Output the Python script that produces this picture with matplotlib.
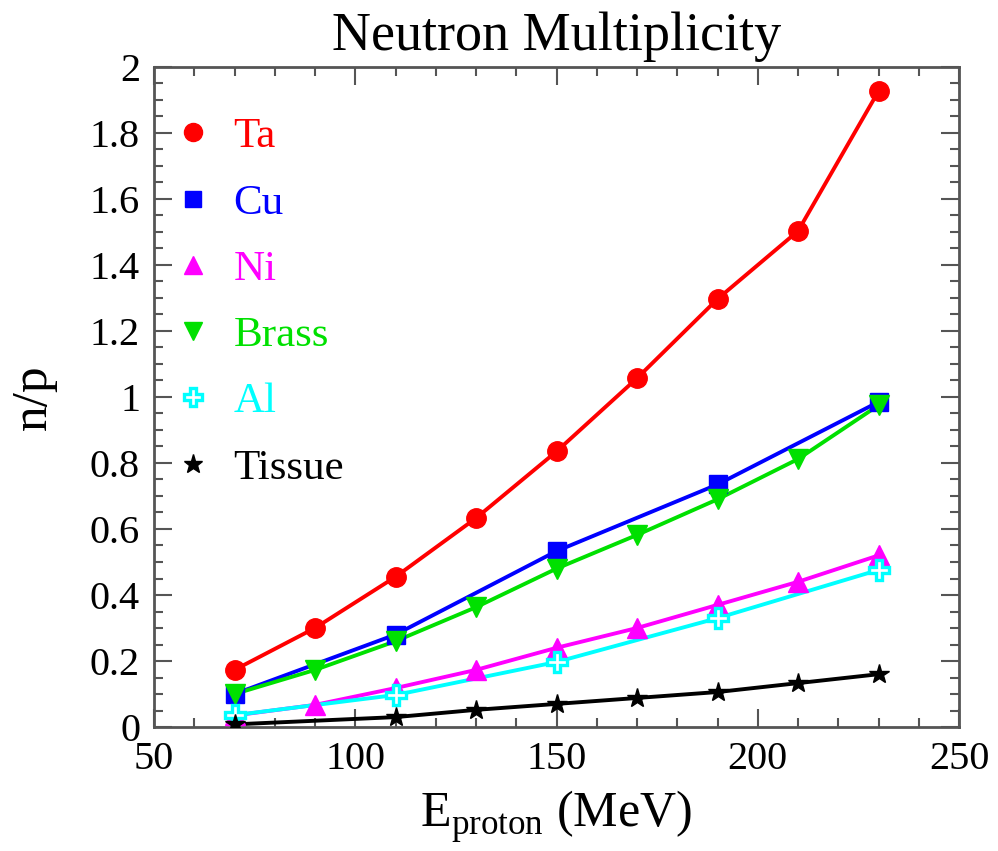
import matplotlib
matplotlib.use("Agg")
import matplotlib.pyplot as plt
from matplotlib.ticker import MultipleLocator

plt.rcParams['font.family'] = ['Liberation Serif', 'DejaVu Serif']
plt.rcParams['mathtext.fontset'] = 'custom'
plt.rcParams['mathtext.rm'] = 'Liberation Serif'

# proton energies (MeV)
e_full = [70, 90, 110, 130, 150, 170, 190, 210, 230]
e_cu = [70, 110, 150, 190, 230]
e_al = [70, 110, 150, 190, 230]
e_tissue = [70, 110, 130, 150, 170, 190, 210, 230]

# neutrons per proton
ta = [0.173, 0.30, 0.455, 0.633, 0.835, 1.057, 1.297, 1.503, 1.927]
cu = [0.10, 0.28, 0.533, 0.735, 0.985]
ni = [0.035, 0.067, 0.118, 0.173, 0.24, 0.30, 0.37, 0.44, 0.52]
brass = [0.10, 0.173, 0.26, 0.363, 0.48, 0.582, 0.69, 0.812, 0.975]
al = [0.036, 0.097, 0.197, 0.33, 0.476]
tissue = [0.008, 0.03, 0.052, 0.07, 0.088, 0.106, 0.133, 0.16]

series = [
    ("Ta", e_full, ta, "#ff0000", "o", "#ff0000", 14),
    ("Cu", e_cu, cu, "#0000ff", "s", "#0000ff", 13),
    ("Ni", e_full, ni, "#ff00ff", "^", "#ff00ff", 14),
    ("Brass", e_full, brass, "#00e000", "v", "#00e000", 14),
    ("Al", e_al, al, "#00ffff", "P", "white", 14),
    ("Tissue", e_tissue, tissue, "#000000", "*", "#000000", 15),
]

fig = plt.figure(figsize=(9.98, 8.51), dpi=100)
ax = fig.add_axes([0.1543, 0.1457, 0.8067, 0.7756])

handles = []
for name, x, y, col, mk, fc, ms in series:
    ax.plot(x, y, color=col, lw=2.8, zorder=2)
    ax.plot(x, y, ls='none', marker=mk, ms=ms, mfc=fc, mec=col,
            mew=2.4 if mk == "P" else 1, zorder=3)
    h, = ax.plot([], [], ls='none', marker=mk, ms=ms - 1, mfc=fc, mec=col,
                 mew=2.4 if mk == "P" else 1, label=name)
    handles.append(h)

ax.set_xlim(50, 250)
ax.set_ylim(0, 2)
ax.xaxis.set_major_locator(MultipleLocator(50))
ax.xaxis.set_minor_locator(MultipleLocator(10))
ax.yaxis.set_major_locator(MultipleLocator(0.2))
ax.yaxis.set_minor_locator(MultipleLocator(0.05))
ax.yaxis.set_major_formatter(plt.FuncFormatter(lambda v, p: f"{v:g}"))

frame = "#555555"
for s in ax.spines.values():
    s.set_color(frame)
    s.set_linewidth(2)
ax.tick_params(which='both', direction='in', top=True, right=True,
               color=frame, width=1.5, labelsize=29)
ax.tick_params(which='major', length=13, pad=10)
ax.tick_params(which='minor', length=6.5)

ax.set_title("Neutron Multiplicity", fontsize=39, pad=12)
ax.set_xlabel(r"E$_{\mathrm{proton}}$ (MeV)", fontsize=36, labelpad=8)
ax.set_ylabel("n/p", fontsize=37, labelpad=24)

leg = ax.legend(handles=handles, loc='upper left', bbox_to_anchor=(0.0, 0.95),
                frameon=False, fontsize=31, handlelength=1.0, handletextpad=0.45,
                labelspacing=0.63, borderaxespad=0,
                labelcolor=[s[3] for s in series])

fig.savefig("out.png", dpi=100)
